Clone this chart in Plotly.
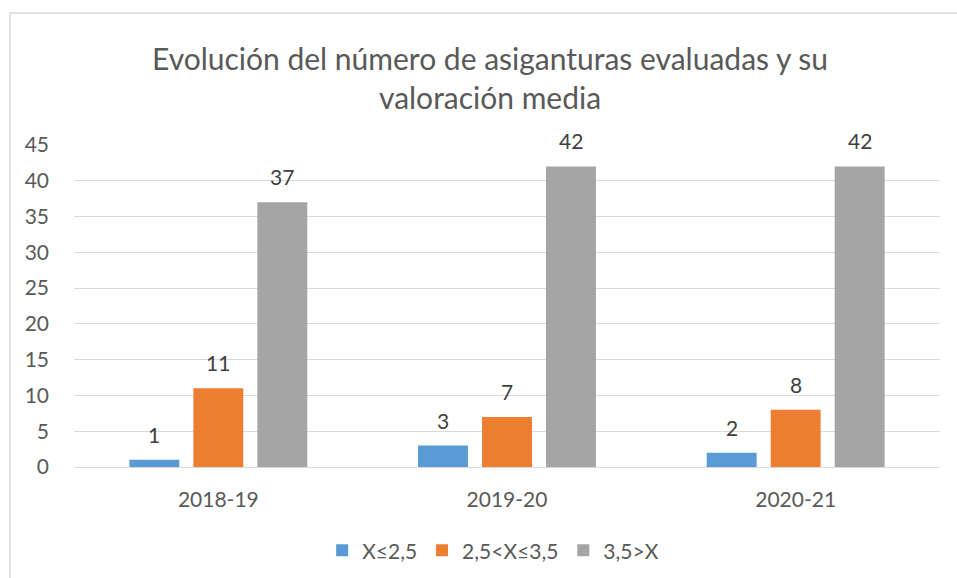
import plotly.graph_objects as go

categories = ["2018-19", "2019-20", "2020-21"]
series_names = ["X≤2,5", "2,5<X≤3,5", "3,5>X"]
values_low = [1, 3, 2]
values_mid = [11, 7, 8]
values_high = [37, 42, 42]
colors = ["#5B9BD5", "#ED7D31", "#A5A5A5"]
y_ticks = [0, 5, 10, 15, 20, 25, 30, 35, 40, 45]

FONT = "Lato, Carlito, Calibri, sans-serif"
TXT = "#595959"
SLOT_PX = 64  # pixel distance between neighbouring bars in a group

fig = go.Figure()
annotations = []
all_series = [values_low, values_mid, values_high]
for si, (name, vals, col) in enumerate(zip(series_names, all_series, colors)):
    fig.add_trace(go.Bar(
        x=categories, y=vals, name=name, marker_color=col, marker_line_width=0,
    ))
    for cat, v in zip(categories, vals):
        annotations.append(dict(
            x=cat, y=v, xref="x", yref="y", text=str(v), showarrow=False,
            xanchor="center", yanchor="bottom", xshift=(si - 1) * SLOT_PX, yshift=11,
            font=dict(family=FONT, size=21, color="#404040"),
        ))

annotations.append(dict(
    text="Evolución del número de asiganturas evaluadas y su<br>valoración media",
    xref="paper", yref="paper", x=0.48, y=(467 - 77) / 322, xanchor="center", yanchor="middle",
    showarrow=False, font=dict(family=FONT, size=30, color=TXT),
))

fig.update_layout(
    width=957, height=578,
    margin=dict(l=74, r=17, t=145, b=111, autoexpand=False),
    paper_bgcolor="white", plot_bgcolor="white",
    barmode="group", bargap=0.335, bargroupgap=0.22,
    font=dict(family=FONT, color=TXT, size=21),
    showlegend=True,
    legend=dict(orientation="h", x=0.484, xanchor="center", y=-0.26, yanchor="middle",
                font=dict(family=FONT, size=21, color=TXT), itemwidth=30, tracegroupgap=0),
    xaxis=dict(showgrid=False, showline=False, ticks="", ticklabelstandoff=18, automargin=False,
               tickfont=dict(family=FONT, size=21, color=TXT)),
    yaxis=dict(range=[0, 45], tickvals=y_ticks, showgrid=True, gridcolor="#D9D9D9", gridwidth=1,
               zeroline=True, zerolinecolor="#D9D9D9", zerolinewidth=1, automargin=False,
               showline=False, ticks="", ticklabelstandoff=24,
               tickfont=dict(family=FONT, size=21, color=TXT)),
    annotations=annotations,
    shapes=[dict(type="rect", xref="paper", yref="paper",
                 x0=(10 - 74) / 866, x1=(990 - 74) / 866,
                 y0=(467 - 600) / 322, y1=(467 - 13) / 322,
                 line=dict(color="#D9D9D9", width=1.5), fillcolor="rgba(0,0,0,0)", layer="below")],
)

fig.write_html("out.html", config={"displayModeBar": False},
               post_script="document.body.style.margin='0px';document.body.style.overflow='hidden';")
